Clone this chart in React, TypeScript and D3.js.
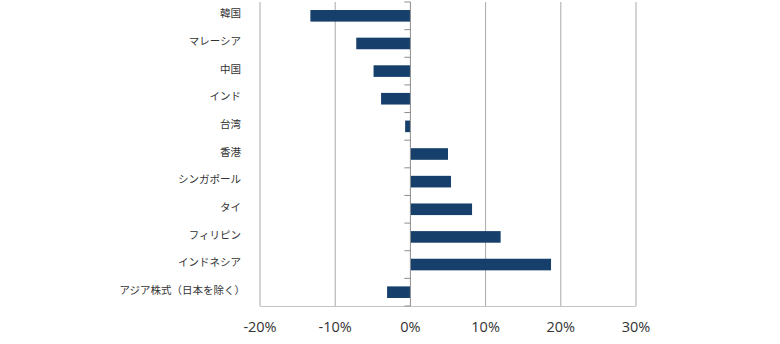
import React from "react";
import * as d3 from "d3";

const categories = ["韓国", "マレーシア", "中国", "インド", "台湾", "香港", "シンガポール", "タイ", "フィリピン", "インドネシア", "アジア株式（日本を除く）"];
const values = [-13.3, -7.2, -4.9, -3.9, -0.7, 5.0, 5.4, 8.2, 12.0, 18.7, -3.1];
const xTicks = [-20, -10, 0, 10, 20, 30];

const W = 780, H = 344;
const left = 260, right = 636, top = 2, bottom = 306;

export default function App() {
  const x = d3.scaleLinear().domain([-20, 30]).range([left, right]);
  const y = d3.scaleBand<string>().domain(categories).range([top, bottom]).paddingInner(0.58).paddingOuter(0.29);
  const band = d3.scaleBand<string>().domain(categories).range([top, bottom]);
  const boundaries = d3.range(categories.length + 1).map(i => top + i * band.step());
  return (
    <svg width={W} height={H} style={{ position: "absolute", left: 0, top: 0, background: "#fff" }}>
      {xTicks.filter(t => t !== 0).map(t => (
        <line key={t} x1={x(t)} x2={x(t)} y1={top} y2={bottom} stroke="#a8a8a8" strokeWidth={1} />
      ))}
      <line x1={left} x2={right} y1={bottom + 0.5} y2={bottom + 0.5} stroke="#c4c4c4" strokeWidth={1} />
      {values.map((v, i) => {
        const c = categories[i];
        return (
          <rect key={c} x={Math.min(x(0), x(v))} width={Math.abs(x(v) - x(0))} y={y(c)!} height={y.bandwidth()} fill="#16406b" />
        );
      })}
      <line x1={x(0)} x2={x(0)} y1={top} y2={bottom} stroke="#8c8c8c" strokeWidth={1} />
      {boundaries.map((b, i) => (
        <line key={i} x1={x(0) - 6} x2={x(0)} y1={b} y2={b} stroke="#8c8c8c" strokeWidth={1} />
      ))}
      {categories.map((c, i) => (
        <text key={c} x={i === categories.length - 1 ? 245 : 241} y={band(c)! + band.bandwidth() / 2 - 2} dy="0.35em" textAnchor="end"
          fontFamily="'Noto Sans CJK JP', 'Noto Sans', sans-serif" fontSize={10.5} fill="#333">{c}</text>
      ))}
      {xTicks.map(t => (
        <text key={t} x={x(t)} y={332} textAnchor="middle" fontFamily="'Open Sans', 'Noto Sans', sans-serif"
          fontSize={14.5} fill="#333">{`${t}%`}</text>
      ))}
    </svg>
  );
}
